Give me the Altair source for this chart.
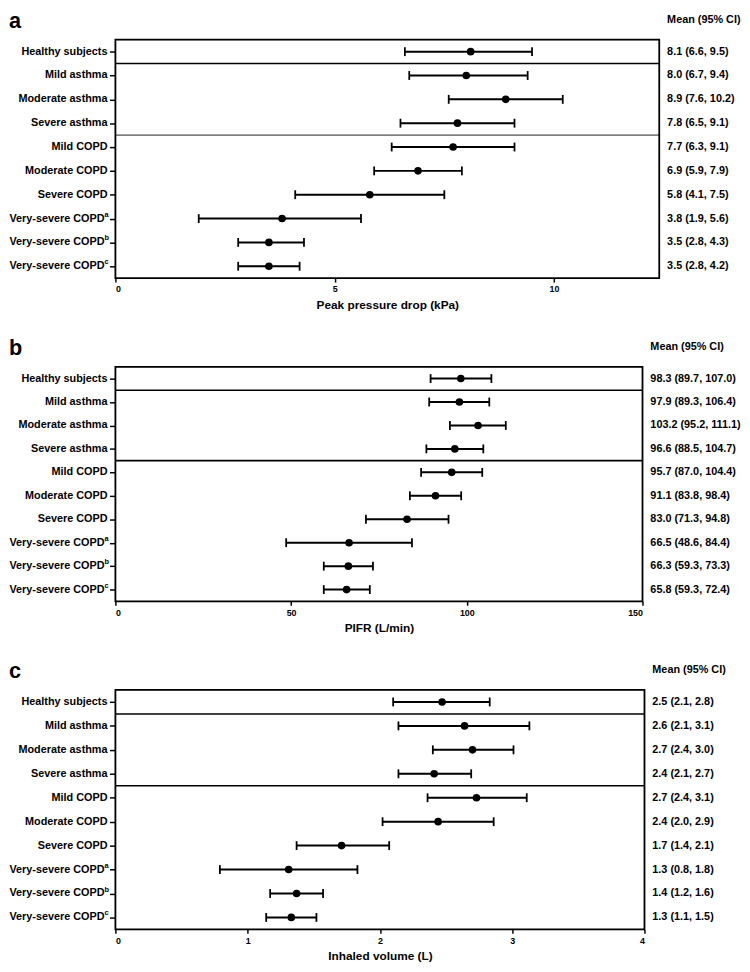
import altair as alt
import pandas as pd

groups = ["Healthy subjects", "Mild asthma", "Moderate asthma", "Severe asthma",
          "Mild COPD", "Moderate COPD", "Severe COPD",
          "Very-severe COPD", "Very-severe COPD", "Very-severe COPD"]
sups = ["", "", "", "", "", "", "", "a", "b", "c"]

# Panel a: peak pressure drop (kPa)
ppd_mean = [8.1, 8.0, 8.9, 7.8, 7.7, 6.9, 5.8, 3.8, 3.5, 3.5]
ppd_lo = [6.6, 6.7, 7.6, 6.5, 6.3, 5.9, 4.1, 1.9, 2.8, 2.8]
ppd_hi = [9.5, 9.4, 10.2, 9.1, 9.1, 7.9, 7.5, 5.6, 4.3, 4.2]
ppd_ticks = [0, 5, 10]

# Panel b: PIFR (L/min)
pifr_mean = [98.3, 97.9, 103.2, 96.6, 95.7, 91.1, 83.0, 66.5, 66.3, 65.8]
pifr_lo = [89.7, 89.3, 95.2, 88.5, 87.0, 83.8, 71.3, 48.6, 59.3, 59.3]
pifr_hi = [107.0, 106.4, 111.1, 104.7, 104.4, 98.4, 94.8, 84.4, 73.3, 72.4]
pifr_ticks = [0, 50, 100, 150]

# Panel c: inhaled volume (L)
iv_mean = [2.47, 2.64, 2.70, 2.41, 2.73, 2.44, 1.71, 1.31, 1.37, 1.33]
iv_lo = [2.10, 2.14, 2.40, 2.14, 2.36, 2.02, 1.37, 0.79, 1.17, 1.14]
iv_hi = [2.83, 3.13, 3.01, 2.69, 3.11, 2.86, 2.07, 1.83, 1.57, 1.52]
iv_ticks = [0, 1, 2, 3, 4]

FONT = "Liberation Sans"


def panel(letter, mean, lo, hi, xmax, ticks, title, W, H, sep2_color):
    df = pd.DataFrame({
        "row": list(range(1, 11)),
        "name": groups,
        "sup": sups,
        "mean": mean,
        "lo": lo,
        "hi": hi,
        "label": [f"{m:.1f} ({l:.1f}, {h:.1f})" for m, l, h in zip(mean, lo, hi)],
    })
    xs = alt.Scale(domain=[0, xmax], nice=False, zero=False)
    ys = alt.Scale(domain=[0.5, 10.5], reverse=True, nice=False, zero=False)
    x_axis = alt.Axis(values=ticks, title=title, grid=False, domain=False,
                      tickSize=4, tickWidth=1.5, tickColor="black",
                      labelFont=FONT, labelFontSize=9, labelFontWeight="bold",
                      labelColor="black", labelPadding=3,
                      titleFont=FONT, titleFontSize=12, titleFontWeight="bold",
                      titleColor="black", titlePadding=6)
    y_axis = alt.Axis(values=list(range(1, 11)), labels=False, title=None,
                      grid=False, domain=False, tickSize=6, tickWidth=1.5,
                      tickColor="black")

    def X(f):
        return alt.X(f"{f}:Q", scale=xs, axis=x_axis)

    def Y(f="row"):
        return alt.Y(f"{f}:Q", scale=ys, axis=y_axis)

    base = alt.Chart(df)
    bars = base.mark_rule(color="black", strokeWidth=2).encode(
        x=X("lo"), x2="hi:Q", y=Y())
    cap_lo = base.mark_tick(orient="vertical", size=9, thickness=1.8,
                            color="black", opacity=1).encode(x=X("lo"), y=Y())
    cap_hi = base.mark_tick(orient="vertical", size=9, thickness=1.8,
                            color="black", opacity=1).encode(x=X("hi"), y=Y())
    pts = base.mark_circle(size=60, color="black", opacity=1).encode(
        x=X("mean"), y=Y())

    sep_df = pd.DataFrame({"y": [1.5, 4.5], "col": ["black", sep2_color]})
    seps = alt.Chart(sep_df).mark_rule(strokeWidth=1.6).encode(
        y=Y("y"), x=alt.value(0), x2=alt.value(W),
        color=alt.Color("col:N", scale=None))

    frame = alt.Chart(pd.DataFrame({"f": [0]})).mark_rect(
        fill=None, stroke="black", strokeWidth=1.8).encode(
        x=alt.value(0), x2=alt.value(W), y=alt.value(0), y2=alt.value(H))

    name_plain = base.transform_filter("datum.sup == ''").mark_text(
        align="right", baseline="middle", font=FONT, fontSize=11,
        fontWeight="bold", color="black").encode(
        x=alt.value(-8), y=Y(), text="name:N")
    name_sup = base.transform_filter("datum.sup != ''").mark_text(
        align="right", baseline="middle", font=FONT, fontSize=11,
        fontWeight="bold", color="black").encode(
        x=alt.value(-11), y=Y(), text="name:N")
    sup_txt = base.transform_filter("datum.sup != ''").mark_text(
        align="left", baseline="middle", font=FONT, fontSize=7.5, dy=-4,
        fontWeight="bold", color="black").encode(
        x=alt.value(-11), y=Y(), text="sup:N")
    vals = base.mark_text(align="left", baseline="middle", font=FONT,
                          fontSize=11, fontWeight="bold", color="black").encode(
        x=alt.value(W + 8), y=Y(), text="label:N")

    head_df = pd.DataFrame({"t": ["Mean (95% CI)"], "l": [letter]})
    head = alt.Chart(head_df).mark_text(
        align="left", baseline="alphabetic", font=FONT, fontSize=11,
        fontWeight="bold", color="black").encode(
        x=alt.value(W + 8), y=alt.value(-17), text="t:N")
    let = alt.Chart(head_df).mark_text(
        align="left", baseline="alphabetic", font=FONT, fontSize=22,
        fontWeight="bold", color="black").encode(
        x=alt.value(-108), y=alt.value(-12), text="l:N")

    return alt.layer(seps, bars, cap_lo, cap_hi, pts, frame, name_plain,
                     name_sup, sup_txt, vals, head, let).properties(
        width=W, height=H)


pa = panel("a", ppd_mean, ppd_lo, ppd_hi, 12.4, ppd_ticks,
           "Peak pressure drop (kPa)", 552, 242, "#808080")
pb = panel("b", pifr_mean, pifr_lo, pifr_hi, 150, pifr_ticks,
           "PIFR (L/min)", 535, 238, "black")
pc = panel("c", iv_mean, iv_lo, iv_hi, 4, iv_ticks,
           "Inhaled volume (L)", 537, 243, "black")

chart = alt.vconcat(pa, pb, pc, spacing=25).properties(
    padding={"left": 0, "top": -6, "right": 0, "bottom": 0}
).configure_view(stroke=None).configure(background="white")

chart.save("out.html", embed_options={"renderer": "svg", "actions": False})
